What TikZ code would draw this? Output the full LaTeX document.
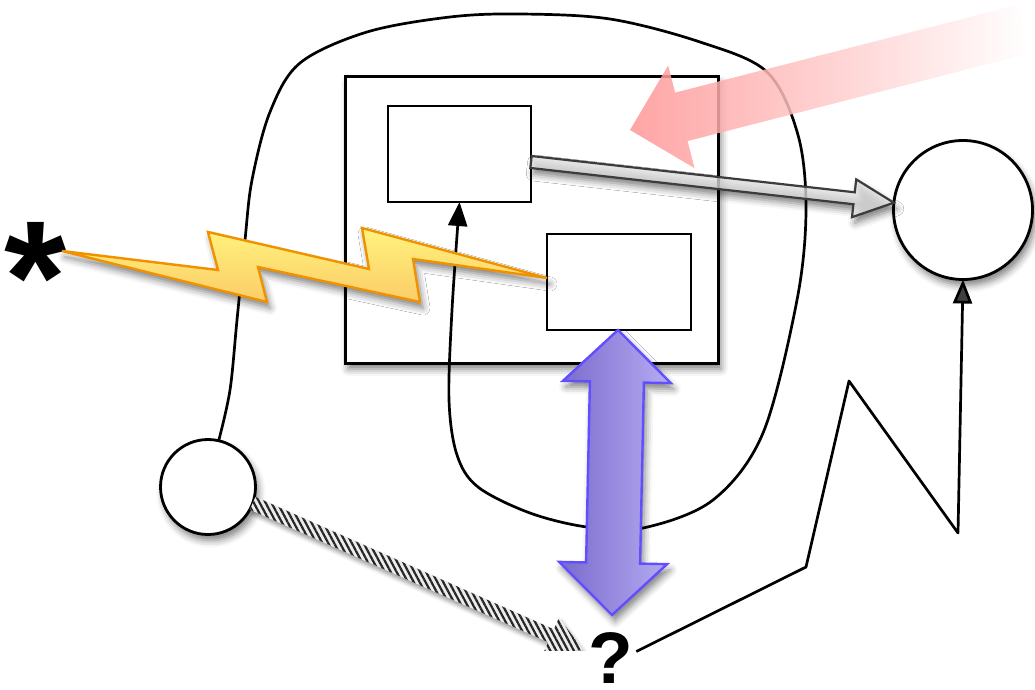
\documentclass[tikz,border=0pt]{standalone}
\usepackage{fontspec}
\setmainfont{Liberation Sans}
\usetikzlibrary{arrows.meta,shadows.blur,patterns.meta,calc}

\definecolor{boltTop}{RGB}{255,243,125}
\definecolor{boltBottom}{RGB}{251,204,104}
\definecolor{boltEdge}{RGB}{240,145,0}
\definecolor{violetLeft}{RGB}{122,106,204}
\definecolor{violetRight}{RGB}{182,172,242}
\definecolor{violetEdge}{RGB}{96,78,255}
\definecolor{greyFill}{RGB}{228,228,228}
\definecolor{greyEdge}{RGB}{60,60,60}
\definecolor{roseFill}{RGB}{255,150,150}

\tikzset{
  softshadow/.style={blur shadow={shadow xshift=3pt, shadow yshift=-6pt,
      shadow blur radius=7pt, shadow opacity=50}},
  bigbox/.style={draw, line width=3pt, fill=white, inner sep=0pt, outer sep=0pt, softshadow},
  smallbox/.style={draw, line width=2.8pt, fill=white, inner sep=0pt, outer sep=0pt},
  ring/.style={circle, draw, line width=2.8pt, fill=white, inner sep=0pt, outer sep=0pt, softshadow},
  wire/.style={line width=2.7pt, line join=round},
  tip/.style={-{Triangle[length=24pt,width=19pt]}},
  glyph/.style={inner sep=0pt, outer sep=0pt},
  bolt/.style={draw=boltEdge, line width=2.4pt, line join=miter,
      top color=boltTop, bottom color=boltBottom, softshadow},
  greyarrow/.style={draw=greyEdge, line width=2.2pt, fill=greyFill, fill opacity=0.75, softshadow},
  violetarrow/.style={draw=violetEdge, line width=2.4pt, left color=violetLeft,
      right color=violetRight, softshadow},
  rosearrow/.style={left color=roseFill, right color=white, fill opacity=0.85},
  hatcharrow/.style={blur shadow={shadow xshift=2pt, shadow yshift=-4pt,
      shadow blur radius=4pt, shadow opacity=40},
      preaction={fill=gray!15},
      pattern={Lines[angle=-62,distance=5.2pt,line width=2.2pt]}, pattern color=black!85},
}

% block arrow between two points: #2 from, #3 to, #4 shaft half width,
% #5 head half width, #6 head length
\newcommand\blockarrow[6][]{%
  \path[#1] let \p1=(#2), \p2=(#3),
      \n1={atan2(\y2-\y1,\x2-\x1)}, \n2={veclen(\x2-\x1,\y2-\y1)} in
    ([shift={(\p1)},rotate=\n1]0,#4)
    -- ([shift={(\p1)},rotate=\n1]{\n2-#6},#4)
    -- ([shift={(\p1)},rotate=\n1]{\n2-#6},#5)
    -- ([shift={(\p1)},rotate=\n1]\n2,0)
    -- ([shift={(\p1)},rotate=\n1]{\n2-#6},-#5)
    -- ([shift={(\p1)},rotate=\n1]{\n2-#6},-#4)
    -- ([shift={(\p1)},rotate=\n1]0,-#4) -- cycle;}

% double-headed block arrow, same arguments
\newcommand\twinarrow[6][]{%
  \path[#1] let \p1=(#2), \p2=(#3),
      \n1={atan2(\y2-\y1,\x2-\x1)}, \n2={veclen(\x2-\x1,\y2-\y1)} in
    ([shift={(\p1)},rotate=\n1]0,0)
    -- ([shift={(\p1)},rotate=\n1]#6,#5)
    -- ([shift={(\p1)},rotate=\n1]#6,#4)
    -- ([shift={(\p1)},rotate=\n1]{\n2-#6},#4)
    -- ([shift={(\p1)},rotate=\n1]{\n2-#6},#5)
    -- ([shift={(\p1)},rotate=\n1]\n2,0)
    -- ([shift={(\p1)},rotate=\n1]{\n2-#6},-#5)
    -- ([shift={(\p1)},rotate=\n1]{\n2-#6},-#4)
    -- ([shift={(\p1)},rotate=\n1]#6,-#4)
    -- ([shift={(\p1)},rotate=\n1]#6,-#5) -- cycle;}

\begin{document}
\begin{tikzpicture}[x=1pt, y=-1pt]
  \clip (0,0) rectangle (1035,690);
  \useasboundingbox (0,0) rectangle (1035,690);

  % boxes and circles
  \node[bigbox, minimum width=373pt, minimum height=286pt] (outer) at (531.5,220) {};
  \node[smallbox, minimum width=143pt, minimum height=96pt] (r1) at (459.5,154) {};
  \node[smallbox, minimum width=144pt, minimum height=96pt] (r2) at (619,282) {};
  \node[ring, minimum size=139pt] (rc) at (963,210) {};
  \node[ring, minimum size=95pt] (lc) at (208,487) {};

  % text marks
  \node[glyph, font=\bfseries\fontsize{160}{160}\selectfont] (star) at (36,277) {*};
  \node[glyph, font=\bfseries\fontsize{73}{73}\selectfont, anchor=base] (q) at (611,683) {?};
  \coordinate (boltstart) at (62,251);

  % looping connector from the small circle into the upper box
  \draw[wire, tip] plot[smooth, tension=0.55] coordinates {
      (lc.77) (230,390) (237,320) (245,240) (252,180) (270,112) (300,63)
      (367,32) (450,17) (520,14) (610,19) (700,42) (767,72) (798,135)
      (806,210) (797,300) (763,433) (713,500) (643,528) (587,527)
      (530,513) (478,487) (457,455) (449,400) (452,310) (r1.south)};

  % grey block arrow
  \blockarrow[greyarrow]{[yshift=-8pt]r1.east}{rc.174}{6}{19}{40}

  % lightning bolt
  \draw[bolt] (boltstart) -- (218,270) -- (208,232) -- (369,269)
      -- (362,228) -- ([yshift=4pt]r2.west) -- (413,259) -- (420,302)
      -- (258,267) -- (267,302) -- cycle;

  % violet double arrow
  \coordinate (vb) at (612,615);
  \twinarrow[violetarrow]{vb}{[xshift=-1pt]r2.south}{27}{54}{52}

  % rose arrow fading out to the right
  \coordinate (rtail) at (1024,29);
  \coordinate (rhead) at (630,130);
  \blockarrow[rosearrow]{rtail}{rhead}{25}{53}{53}

  % hatched arrow towards the question mark
  \coordinate (hhead) at (583,650);
  \begin{scope}
    \clip (0,0) rectangle (1035,650);
    \blockarrow[hatcharrow]{lc.-20}{hhead}{7}{20}{35}
  \end{scope}

  % zigzag connector into the large circle
  \draw[wire, tip] ([yshift=6pt,xshift=3pt]q.east) -- (806,567) -- (849,381)
      -- (958,533) -- (rc.south);
\end{tikzpicture}
\end{document}
